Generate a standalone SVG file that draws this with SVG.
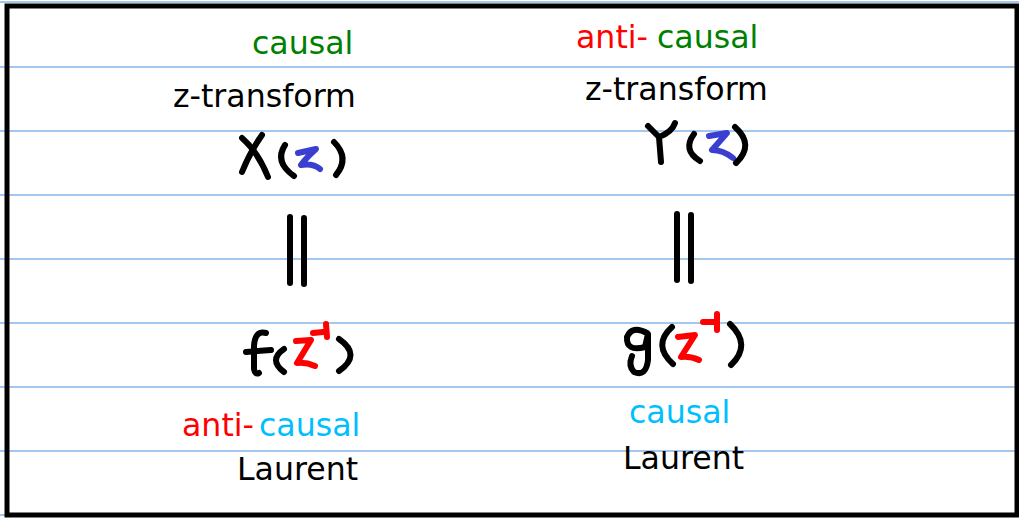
<svg xmlns="http://www.w3.org/2000/svg" width="1019" height="518" viewBox="0 0 1019 518">
<style>
.rule{stroke:#4a90e2;stroke-width:1.2}
.t{font-family:"DejaVu Sans",sans-serif;font-size:31.6px}
.ink{fill:none;stroke:#000;stroke-width:6;stroke-linecap:round;stroke-linejoin:round}
.blue{fill:none;stroke:#3a3fd0;stroke-width:6;stroke-linecap:round;stroke-linejoin:round}
.red{fill:none;stroke:#ff0000;stroke-width:6;stroke-linecap:round;stroke-linejoin:round}
.g{fill:#008000}.r{fill:#ff0000}.c{fill:#00bfff}.k{fill:#000}
</style>
<rect width="1019" height="518" fill="#fff"/>
<g id="rules">
<line class="rule" x1="0" y1="2" x2="1019" y2="2"/>
<line class="rule" x1="0" y1="67" x2="1019" y2="67"/>
<line class="rule" x1="0" y1="131" x2="1019" y2="131"/>
<line class="rule" x1="0" y1="195" x2="1019" y2="195"/>
<line class="rule" x1="0" y1="259" x2="1019" y2="259"/>
<line class="rule" x1="0" y1="323" x2="1019" y2="323"/>
<line class="rule" x1="0" y1="387" x2="1019" y2="387"/>
<line class="rule" x1="0" y1="451" x2="1019" y2="451"/>
<line class="rule" x1="0" y1="515" x2="1019" y2="515"/>
</g>
<rect id="frame" x="7" y="6" width="1010" height="509" fill="none" stroke="#000" stroke-width="5"/>
<g id="left-top">
<text class="t g" x="252" y="54">causal</text>
<text class="t k" x="173" y="107">z-transform</text>
</g>
<g id="right-top">
<text class="t r" x="576" y="48">anti-</text>
<text class="t g" x="657" y="48">causal</text>
<text class="t k" x="585" y="100">z-transform</text>
</g>
<g id="Xz">
<path class="ink" d="M242,138 Q258,152 268,177"/>
<path class="ink" d="M262,135 Q250,152 242,172"/>
<path class="ink" d="M285,145 Q274,162 294,176"/>
<path class="blue" d="M298,153 L316,149 Q306,158 301,165 Q313,163 320,169"/>
<path class="ink" d="M334,142 Q350,158 336,175"/>
</g>
<g id="Yz">
<path class="ink" d="M648,126 L659,137"/>
<path class="ink" d="M675,123 Q672,132 659,137 L661,162"/>
<path class="ink" d="M694,134 Q682,150 700,161"/>
<path class="blue" d="M709,136 L727,133 L712,150 Q723,150 733,158"/>
<path class="ink" d="M735,127 Q755,145 736,163"/>
</g>
<g id="eq-left">
<line class="ink" x1="290" y1="217" x2="290" y2="283"/>
<line class="ink" x1="304" y1="218" x2="304" y2="284"/>
</g>
<g id="eq-right">
<line class="ink" x1="677" y1="214" x2="677" y2="280"/>
<line class="ink" x1="691" y1="215" x2="691" y2="281"/>
</g>
<g id="fz">
<path class="ink" d="M266,333 Q255,330 254,346 L254,369 Q255,375 259,373"/>
<path class="ink" d="M246,352 L271,350"/>
<path class="ink" d="M284,349 Q268,360 284,372"/>
<path class="red" d="M296,341 L311,340 L297,363 Q306,362 315,366"/>
<path class="red" d="M313,333 L323,332"/>
<path class="red" d="M326,324 L327,337"/>
<path class="ink" d="M339,339 Q362,355 339,371"/>
</g>
<g id="gz">
<path class="ink" d="M647,333 Q632,325 627,337 Q626,352 645,347 L648,334 L648,360 Q646,377 634,372 Q628,366 632,356"/>
<path class="ink" d="M672,327 Q652,345 673,364"/>
<path class="red" d="M678,337 L695,335 L681,357 Q691,356 699,360"/>
<path class="red" d="M703,322 L715,322"/>
<path class="red" d="M717,314 L717,330"/>
<path class="ink" d="M730,324 Q752,345 731,365"/>
</g>
<g id="left-bottom">
<text class="t r" x="182" y="436">anti-</text>
<text class="t c" x="259" y="436">causal</text>
<text class="t k" x="237" y="480">Laurent</text>
</g>
<g id="right-bottom">
<text class="t c" x="629" y="423">causal</text>
<text class="t k" x="623" y="469">Laurent</text>
</g>
</svg>
